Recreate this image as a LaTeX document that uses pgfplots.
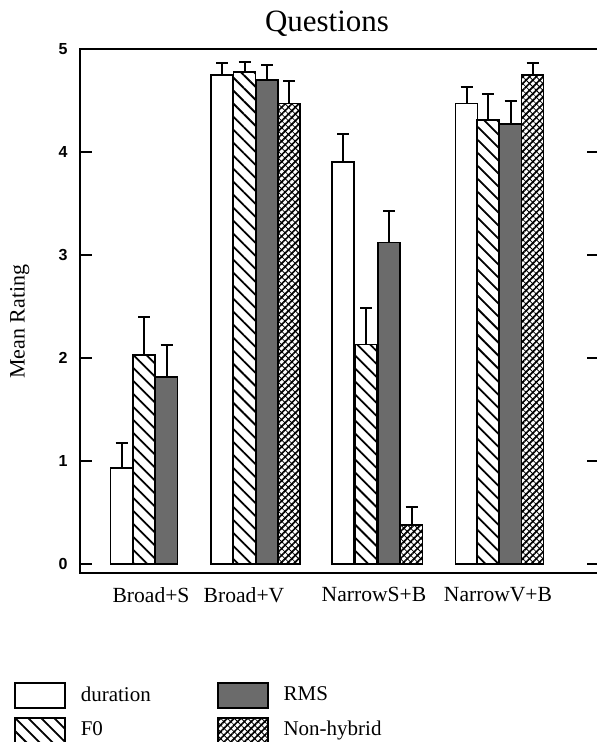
\documentclass[border=0pt]{standalone}
\usepackage{fontspec}
\setmainfont{Liberation Serif}
\setsansfont{Liberation Sans}
\usepackage{pgfplots}
\pgfplotsset{compat=1.18}
\usetikzlibrary{patterns.meta}

% 1 px of the reference = 0.5pt
\pgfplotsset{
  barbase/.style={draw=black, line width=0.9pt, bar width=22, bar shift=0pt,
    error bars/y dir=plus, error bars/y explicit,
    error bars/error bar style={line width=1pt, black},
    error bars/error mark options={rotate=90, line width=1pt, mark size=3pt, black}},
}

\begin{document}
\begin{tikzpicture}
\useasboundingbox (0,0) rectangle (298.5pt,371pt);
\begin{axis}[
  at={(40pt,84.5pt)}, anchor=south west,
  scale only axis, width=259.5pt, height=262pt,
  xmin=80, xmax=599, ymin=-0.09, ymax=5,
  axis line style={line width=1pt},
  ybar,
  xtick={151,244,374,498},
  xticklabels={Broad+S,Broad+V,NarrowS+B,NarrowV+B},
  xtick style={draw=none},
  xticklabel style={font=\fontsize{10.8}{12}\selectfont, anchor=north, inner sep=0pt, yshift=-7pt},
  ytick={0,1,2,3,4,5},
  ytick pos=both, tick align=inside,
  major tick length=6pt,
  ytick style={line width=1pt, black},
  /pgf/number format/assume math mode=true,
  yticklabel style={font=\fontsize{8}{9}\selectfont\sffamily\bfseries, inner sep=0pt, xshift=-6pt},
  title={Questions},
  title style={font=\fontsize{15.5}{18}\selectfont, at={(axis cs:327,5)}, anchor=base, inner sep=0pt, yshift=2.5pt},
  ylabel={Mean Rating},
  ylabel style={font=\fontsize{11}{12}\selectfont, at={(axis description cs:-0.116,0.48)}, anchor=center},
  legend image code/.code={\draw[#1] (0pt,-6.25pt) rectangle (25pt,6.25pt); \path (32.5pt,0pt);},
  legend columns=2, transpose legend,
  legend style={at={(axis description cs:-0.1272,-0.208)}, anchor=north west,
    draw=none, fill=none, inner sep=0pt, outer sep=0pt,
    column sep=0pt, row sep=4pt,
    font=\fontsize{10.5}{12}\selectfont,
    nodes={inner sep=0pt}},
  legend cell align=left,
]
% duration
\addplot[barbase, fill=white] coordinates {
  (121.5,0.93) +- (0,0.24)
  (222,4.75) +- (0,0.11)
  (343,3.90) +- (0,0.27)
  (466.5,4.47) +- (0,0.16)
};
\addlegendentry{\makebox[68pt][l]{duration}}
% F0
\addplot[barbase, fill=white, pattern={Lines[angle=-45,distance=4.6pt,line width=0.9pt]}] coordinates {
  (144,2.03) +- (0,0.37)
  (244.5,4.78) +- (0,0.09)
  (366,2.13) +- (0,0.35)
  (488,4.31) +- (0,0.25)
};
\addlegendentry{\makebox[68pt][l]{F0}}
% RMS
\addplot[barbase, fill=black!58] coordinates {
  (166.5,1.81) +- (0,0.31)
  (267,4.70) +- (0,0.14)
  (389,3.12) +- (0,0.31)
  (510.5,4.27) +- (0,0.22)
};
\addlegendentry{RMS}
% Non-hybrid
\addplot[barbase, pattern={Lines[angle=45,distance=2.4pt,line width=0.85pt]},
  postaction={pattern={Lines[angle=-45,distance=2.4pt,line width=0.4pt]}}] coordinates {
  (289,4.47) +- (0,0.22)
  (411.5,0.38) +- (0,0.17)
  (532.5,4.75) +- (0,0.11)
};
\addlegendentry{Non-hybrid}
\end{axis}
\end{tikzpicture}
\end{document}
